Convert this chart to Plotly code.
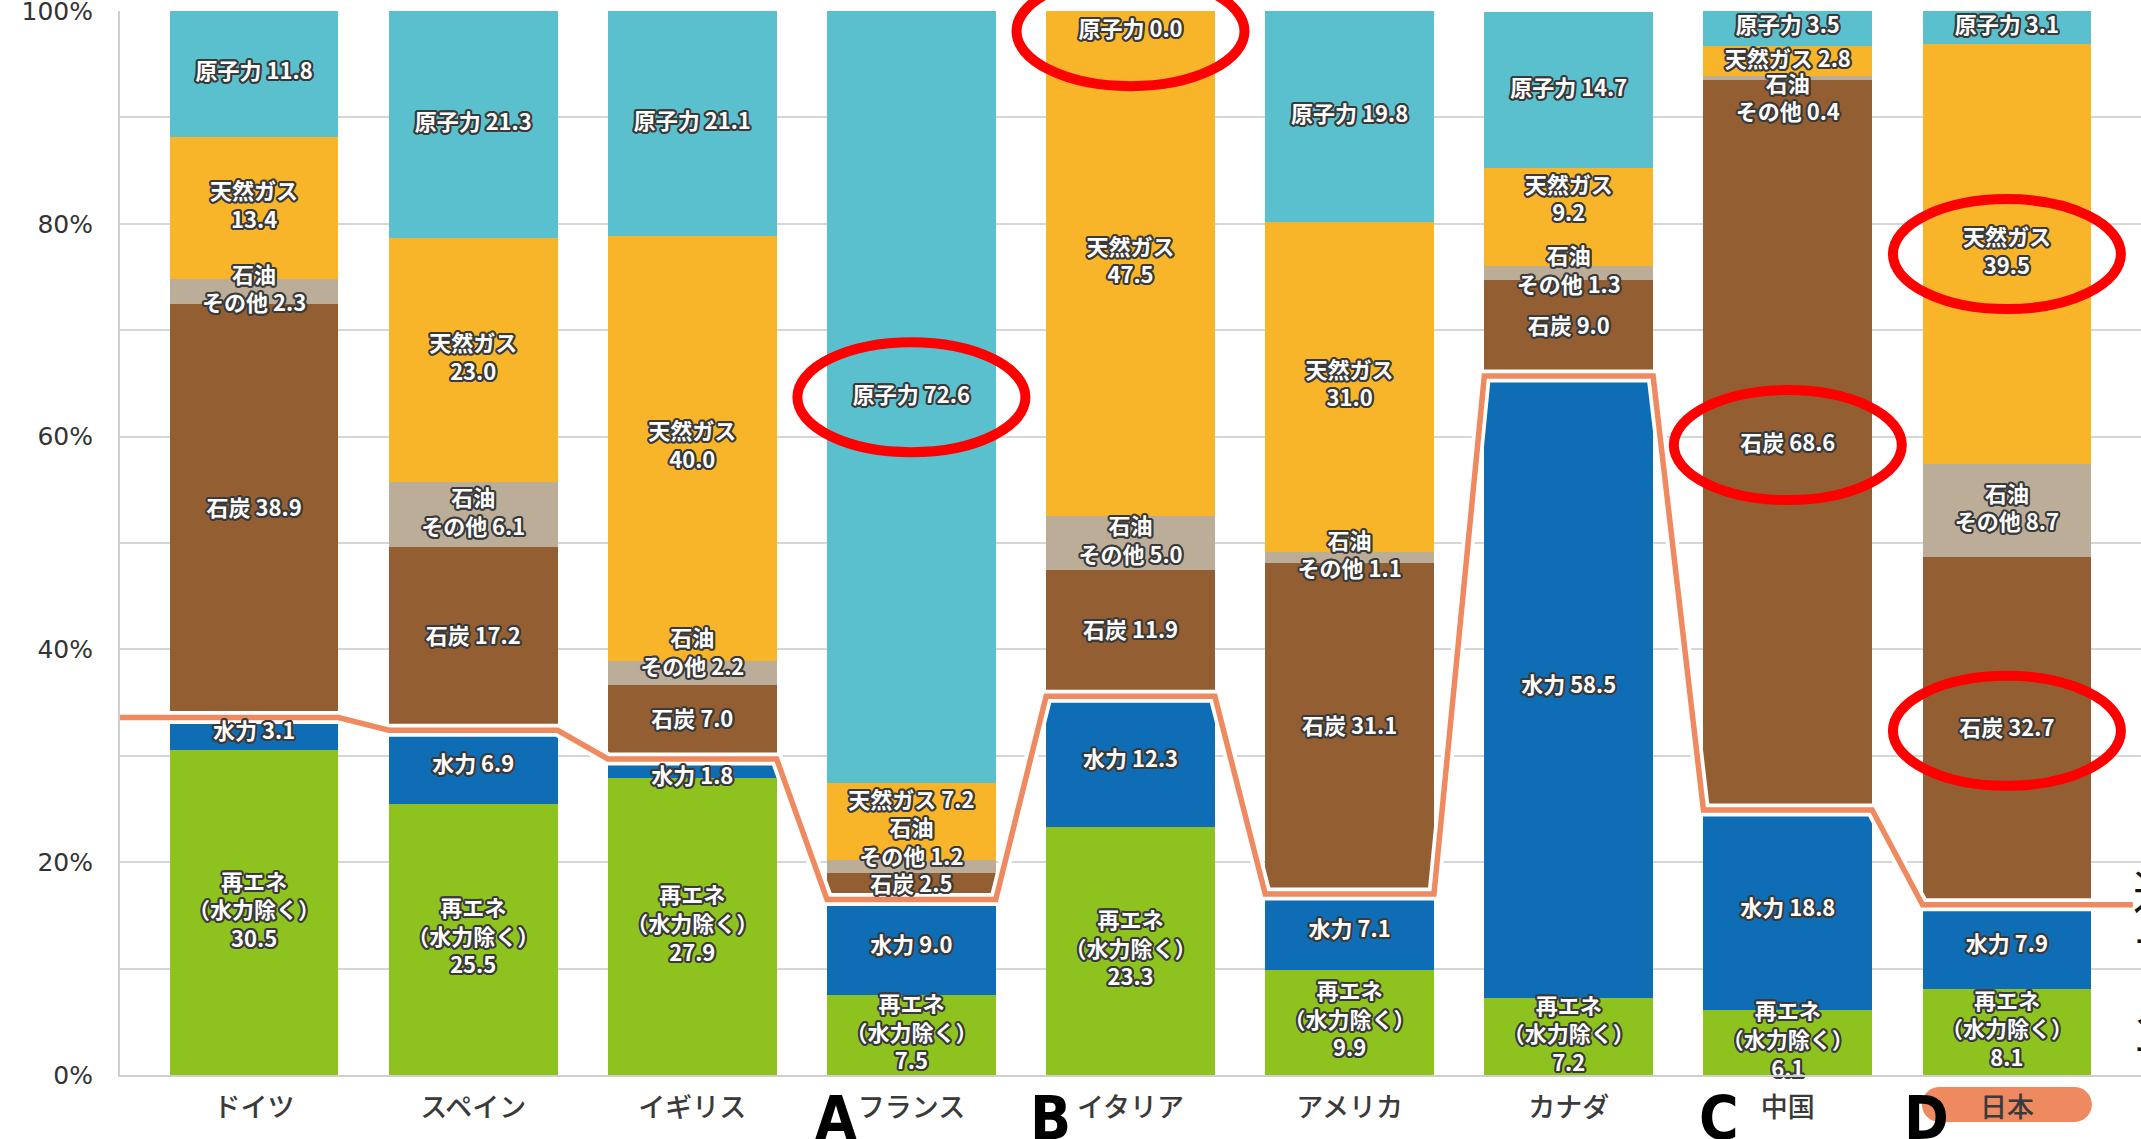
import math
import plotly.graph_objects as go

# Power generation mix by country (%, share of total generation)
countries = ["ドイツ", "スペイン", "イギリス", "フランス", "イタリア", "アメリカ", "カナダ", "中国", "日本"]
renewables = [30.5, 25.5, 27.9, 7.5, 23.3, 9.9, 7.2, 6.1, 8.1]   # 再エネ（水力除く）
hydro = [3.1, 6.9, 1.8, 9.0, 12.3, 7.1, 58.5, 18.8, 7.9]
coal = [38.9, 17.2, 7.0, 2.5, 11.9, 31.1, 9.0, 68.6, 32.7]
oil_other = [2.3, 6.1, 2.2, 1.2, 5.0, 1.1, 1.3, 0.4, 8.7]
natural_gas = [13.4, 23.0, 40.0, 7.2, 47.5, 31.0, 9.2, 2.8, 39.5]
nuclear = [11.8, 21.3, 21.1, 72.6, 0.0, 19.8, 14.7, 3.5, 3.1]

y_tick_vals = [0, 10, 20, 30, 40, 50, 60, 70, 80, 90, 100]
y_tick_text = ["0%", "", "20%", "", "40%", "", "60%", "", "80%", "", "100%"]

highlighted = [("nuclear", "フランス"), ("nuclear", "イタリア"), ("coal", "中国"),
               ("gas", "日本"), ("coal", "日本")]
markers = [("A", "フランス", -75), ("B", "イタリア", -80), ("C", "中国", -69), ("D", "日本", -80)]
side_note = ["道", "ナ", "ス", "ナ"]

# ---- style ----
BAR_W = 0.77
HALF = 0.385
X_RANGE = [-0.612, 8.612]
LABEL_FONT = "Noto Sans CJK JP"

series = [
    ("renew", renewables, "#8EC21F", lambda v: f"再エネ<br>（水力除く）<br>{v:.1f}"),
    ("hydro", hydro, "#0F6DB6", lambda v: f"水力 {v:.1f}"),
    ("coal", coal, "#945E33", lambda v: f"石炭 {v:.1f}"),
    ("oil", oil_other, "#BCAD99", lambda v: f"石油<br>その他 {v:.1f}"),
    ("gas", natural_gas, "#F8B52A",
     lambda v: f"天然ガス {v:.1f}" if v < 8 else f"天然ガス<br>{v:.1f}"),
    ("nuclear", nuclear, "#5BC0CE", lambda v: f"原子力 {v:.1f}"),
]

# small vertical nudges (in %) so labels of thin segments stay readable
nudge = {
    ("gas", "フランス"): 1.8, ("oil", "フランス"): 2.0,
    ("oil", "イギリス"): 1.7, ("hydro", "イギリス"): -0.9,
    ("oil", "中国"): -2.1, ("nuclear", "イタリア"): -1.9,
    ("gas", "カナダ"): 1.5,
}


def outline(color, r=2):
    parts = []
    for dx in range(-r, r + 1):
        for dy in range(-r, r + 1):
            if (dx, dy) != (0, 0) and dx * dx + dy * dy <= r * r + 1:
                parts.append(f"{dx}px {dy}px 0 {color}")
    return ", ".join(parts)


xs = list(range(len(countries)))
fig = go.Figure()

for key, vals, color, _ in series:
    fig.add_bar(x=xs, y=vals, marker_color=color, marker_line_width=0,
                width=BAR_W, hoverinfo="skip", name=key)

# renewable share (incl. hydro) line
totals = [r + h for r, h in zip(renewables, hydro)]
lx, ly = [X_RANGE[0]], [totals[0]]
for i, v in enumerate(totals):
    lx += [i - HALF, i + HALF]
    ly += [v, v]
lx.append(8.575)
ly.append(totals[-1])
fig.add_scatter(x=lx, y=ly, mode="lines", line=dict(color="white", width=13),
                hoverinfo="skip")
fig.add_scatter(x=lx, y=ly, mode="lines", line=dict(color="#EF8A60", width=5.5),
                hoverinfo="skip")

# segment labels
label_x, label_y, label_t = [], [], []
label_pos = {}
cum = [0.0] * len(countries)
for key, vals, _, fmt in series:
    for i, v in enumerate(vals):
        mid = cum[i] + v / 2 + nudge.get((key, countries[i]), 0.0)
        label_pos[(key, countries[i])] = (i, mid)
        label_x.append(i)
        label_y.append(mid)
        label_t.append(fmt(v))
        cum[i] += v

fig.add_scatter(
    x=label_x, y=label_y, text=label_t, mode="text", textposition="middle center",
    textfont=dict(family=LABEL_FONT, size=22, color="white", weight="bold",
                  shadow=outline("#3a3a3a", 2)),
    hoverinfo="skip", cliponaxis=False,
)

# side note partly running off the right edge
fig.add_scatter(
    x=[8.575] * len(side_note), y=[16.7, 11.5, 6.1, 1.4], text=side_note,
    mode="text", textposition="middle right",
    textfont=dict(family=LABEL_FONT, size=46, color="#151515"),
    hoverinfo="skip", cliponaxis=True,
)

shapes = []
for key, country in highlighted:
    cx, cy = label_pos[(key, country)]
    shapes.append(dict(
        type="circle", xref="x", yref="paper", xsizemode="pixel", ysizemode="pixel",
        xanchor=cx, yanchor=cy / 100, x0=-114, x1=114, y0=-55, y1=55,
        line=dict(color="#FF0000", width=10), layer="above",
    ))

# pill behind the 日本 tick label
pill_w, pill_h = 85, 17.5
pts = []
for k in range(19):
    a = -math.pi / 2 + math.pi * k / 18
    pts.append((pill_w - pill_h + pill_h * math.cos(a), pill_h * math.sin(a)))
for k in range(19):
    a = math.pi / 2 + math.pi * k / 18
    pts.append((-pill_w + pill_h + pill_h * math.cos(a), pill_h * math.sin(a)))
pill_path = "M " + " L ".join(f"{px:.1f},{py:.1f}" for px, py in pts) + " Z"
shapes.append(dict(
    type="path", xref="x", yref="paper", xsizemode="pixel", ysizemode="pixel",
    xanchor=countries.index("日本"), yanchor=-0.0277, path=pill_path,
    fillcolor="#EF8A60", line=dict(width=0), layer="below",
))

annotations = []
for letter, country, shift in markers:
    annotations.append(dict(
        x=countries.index(country), y=-0.0404, xref="x", yref="paper",
        xshift=shift, text=f"<b>{letter}</b>", showarrow=False,
        font=dict(family="Liberation Sans Narrow, DejaVu Sans Condensed, Arial Narrow, sans-serif",
                  size=60, color="black"),
        xanchor="center", yanchor="middle",
    ))

fig.update_layout(
    width=2141, height=1139, autosize=False,
    margin=dict(l=120, r=0, t=11, b=64, autoexpand=False),
    barmode="stack", bargap=0, showlegend=False,
    plot_bgcolor="white", paper_bgcolor="white",
    shapes=shapes, annotations=annotations,
    xaxis=dict(range=X_RANGE, tickvals=xs, ticktext=countries, showgrid=False,
               showline=True, linecolor="#cfcfcf", linewidth=2, ticks="",
               ticklabelstandoff=8, zeroline=False, automargin=False,
               tickfont=dict(family=LABEL_FONT, size=27, color="#3a3a3a", weight=500)),
    yaxis=dict(range=[0, 100], tickvals=y_tick_vals, ticktext=y_tick_text,
               showgrid=True, gridcolor="#d6d6d6", gridwidth=1.5,
               showline=True, linecolor="#cfcfcf", linewidth=2, ticks="",
               ticklabelstandoff=20, zeroline=False, ticklabeloverflow="allow",
               automargin=False,
               tickfont=dict(family="DejaVu Sans", size=25, color="#333")),
)

fig.write_html("out.html")
